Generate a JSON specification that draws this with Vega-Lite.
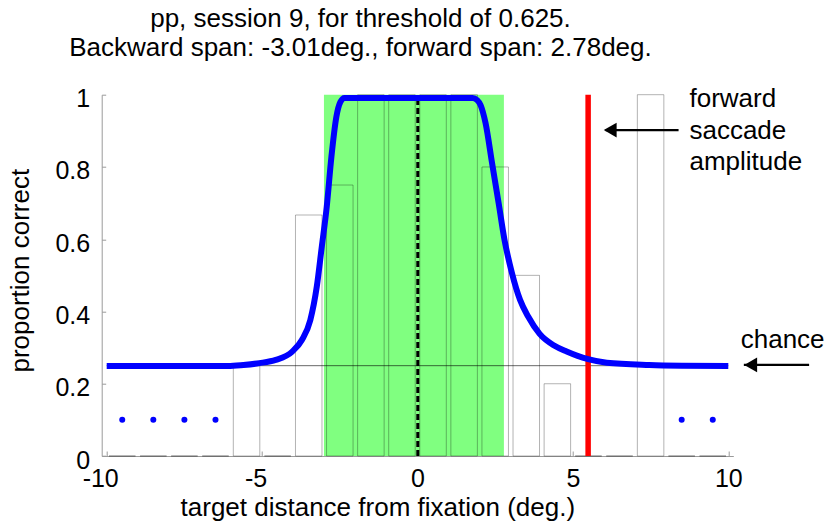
{
  "$schema": "https://vega.github.io/schema/vega-lite/v6.json",
  "width": 631.6,
  "height": 361.3,
  "autosize": {"type": "none"},
  "padding": {"left": 101.7, "top": 94.7, "right": 99.7, "bottom": 71},
  "background": "white",
  "title": {
    "text": ["pp, session 9, for threshold of 0.625.", "Backward span: -3.01deg., forward span: 2.78deg."],
    "font": "Liberation Sans",
    "fontSize": 26,
    "fontWeight": "normal",
    "color": "black",
    "lineHeight": 29,
    "anchor": "middle",
    "frame": "group",
    "dx": -57,
    "offset": 25
  },
  "datasets": {
    "bars": [
      {"x": -9.5, "p": 0}, {"x": -8.5, "p": 0}, {"x": -7.5, "p": 0}, {"x": -6.5, "p": 0},
      {"x": -5.5, "p": 0.25}, {"x": -4.5, "p": 0}, {"x": -3.5, "p": 0.667}, {"x": -2.5, "p": 0.75},
      {"x": -1.5, "p": 1}, {"x": -0.5, "p": 1}, {"x": 0.5, "p": 1}, {"x": 1.5, "p": 1},
      {"x": 2.5, "p": 0.8}, {"x": 3.5, "p": 0.5}, {"x": 4.5, "p": 0.2}, {"x": 5.5, "p": 0},
      {"x": 6.5, "p": 0}, {"x": 7.5, "p": 1}, {"x": 8.5, "p": 0}, {"x": 9.5, "p": 0}
    ],
    "span": [{"lo": -3.01, "hi": 2.78, "b": 0, "t": 1}],
    "curve": [
      {"x": -10, "p": 0.249}, {"x": -8, "p": 0.249}, {"x": -6.1, "p": 0.249}, {"x": -5.6, "p": 0.252},
      {"x": -5.09, "p": 0.257}, {"x": -4.56, "p": 0.266}, {"x": -4.03, "p": 0.289}, {"x": -3.72, "p": 0.321},
      {"x": -3.45, "p": 0.376}, {"x": -3.24, "p": 0.469}, {"x": -3.08, "p": 0.579}, {"x": -2.92, "p": 0.69},
      {"x": -2.77, "p": 0.828}, {"x": -2.61, "p": 0.939}, {"x": -2.48, "p": 0.98}, {"x": -2.35, "p": 0.991},
      {"x": 1.77, "p": 0.991}, {"x": 1.92, "p": 0.985}, {"x": 2.03, "p": 0.971}, {"x": 2.19, "p": 0.921},
      {"x": 2.4, "p": 0.81}, {"x": 2.61, "p": 0.7}, {"x": 2.8, "p": 0.598}, {"x": 3.04, "p": 0.506},
      {"x": 3.3, "p": 0.432}, {"x": 3.56, "p": 0.386}, {"x": 3.93, "p": 0.338}, {"x": 4.41, "p": 0.305},
      {"x": 4.8, "p": 0.289}, {"x": 5.15, "p": 0.277}, {"x": 5.49, "p": 0.268}, {"x": 6.09, "p": 0.258},
      {"x": 7.46, "p": 0.252}, {"x": 8.5, "p": 0.25}, {"x": 10, "p": 0.249}
    ],
    "empty": [{"x": -9.5, "p": 0.1}, {"x": -8.5, "p": 0.1}, {"x": -7.5, "p": 0.1}, {"x": -6.5, "p": 0.1}, {"x": 8.5, "p": 0.1}, {"x": 9.5, "p": 0.1}],
    "chance": [{"x": -10, "x2": 10, "p": 0.25}],
    "fixation": [{"x": 0.01, "b": 0, "t": 0.99}],
    "saccade": [{"x": 5.49, "b": 0, "t": 1}],
    "arrows": [{"x": 10.5, "x2": 12.6, "p": 0.252}, {"x": 6.05, "x2": 8.4, "p": 0.902}],
    "heads": [{"x": 10.72, "p": 0.252}, {"x": 6.2, "p": 0.902}],
    "labels": [
      {"x": 10.4, "p": 0.299, "label": "chance"},
      {"x": 8.75, "p": 0.967, "label": "forward"},
      {"x": 8.75, "p": 0.877, "label": "saccade"},
      {"x": 8.75, "p": 0.792, "label": "amplitude"}
    ]
  },
  "layer": [
    {
      "data": {"name": "span"},
      "mark": {"type": "rect", "color": "#80ff80"},
      "encoding": {
        "x": {"field": "lo", "type": "quantitative", "title": "target distance from fixation (deg.)", "scale": {"domain": [-10, 10], "nice": false, "zero": false}, "axis": {"values": [-10, -5, 0, 5, 10], "labelExpr": "datum.value + ''", "labelOffset": {"condition": {"test": "datum.value < 0", "value": -6.5}, "value": 0}}},
        "x2": {"field": "hi"},
        "y": {"field": "b", "type": "quantitative", "title": "proportion correct", "scale": {"domain": [0, 1], "nice": false}, "axis": {"values": [0, 0.2, 0.4, 0.6, 0.8, 1], "labelExpr": "datum.value + ''"}},
        "y2": {"field": "t"}
      }
    },
    {
      "data": {"name": "bars"},
      "mark": {"type": "bar", "width": 26.5, "fill": null, "fillOpacity": 0, "stroke": "black", "strokeOpacity": 0.3, "strokeWidth": 1},
      "encoding": {
        "x": {"field": "x", "type": "quantitative", "title": "target distance from fixation (deg.)", "scale": {"domain": [-10, 10], "nice": false, "zero": false}},
        "y": {"field": "p", "type": "quantitative", "title": "proportion correct", "scale": {"domain": [0, 1], "nice": false}}
      }
    },
    {
      "data": {"name": "chance"},
      "mark": {"type": "rule", "color": "black", "strokeWidth": 0.8, "opacity": 0.75},
      "encoding": {
        "x": {"field": "x", "type": "quantitative", "title": "target distance from fixation (deg.)", "scale": {"domain": [-10, 10], "nice": false, "zero": false}},
        "x2": {"field": "x2"},
        "y": {"field": "p", "type": "quantitative", "title": "proportion correct", "scale": {"domain": [0, 1], "nice": false}}
      }
    },
    {
      "data": {"name": "fixation"},
      "mark": {"type": "rule", "color": "black", "strokeWidth": 3, "strokeDash": [6, 3]},
      "encoding": {
        "x": {"field": "x", "type": "quantitative", "title": "target distance from fixation (deg.)", "scale": {"domain": [-10, 10], "nice": false, "zero": false}},
        "y": {"field": "b", "type": "quantitative", "title": "proportion correct", "scale": {"domain": [0, 1], "nice": false}},
        "y2": {"field": "t"}
      }
    },
    {
      "data": {"name": "saccade"},
      "mark": {"type": "rule", "color": "#ff0000", "strokeWidth": 5.5},
      "encoding": {
        "x": {"field": "x", "type": "quantitative", "title": "target distance from fixation (deg.)", "scale": {"domain": [-10, 10], "nice": false, "zero": false}},
        "y": {"field": "b", "type": "quantitative", "title": "proportion correct", "scale": {"domain": [0, 1], "nice": false}},
        "y2": {"field": "t"}
      }
    },
    {
      "data": {"name": "curve"},
      "mark": {"type": "line", "color": "#0000ff", "strokeWidth": 6, "interpolate": "monotone"},
      "encoding": {
        "x": {"field": "x", "type": "quantitative", "title": "target distance from fixation (deg.)", "scale": {"domain": [-10, 10], "nice": false, "zero": false}},
        "y": {"field": "p", "type": "quantitative", "title": "proportion correct", "scale": {"domain": [0, 1], "nice": false}}
      }
    },
    {
      "data": {"name": "empty"},
      "mark": {"type": "point", "filled": true, "shape": "circle", "color": "#0000ff", "size": 36, "opacity": 1},
      "encoding": {
        "x": {"field": "x", "type": "quantitative", "title": "target distance from fixation (deg.)", "scale": {"domain": [-10, 10], "nice": false, "zero": false}},
        "y": {"field": "p", "type": "quantitative", "title": "proportion correct", "scale": {"domain": [0, 1], "nice": false}}
      }
    },
    {
      "data": {"name": "arrows"},
      "mark": {"type": "rule", "color": "black", "strokeWidth": 2.3},
      "encoding": {
        "x": {"field": "x", "type": "quantitative", "title": "target distance from fixation (deg.)", "scale": {"domain": [-10, 10], "nice": false, "zero": false}},
        "x2": {"field": "x2"},
        "y": {"field": "p", "type": "quantitative", "title": "proportion correct", "scale": {"domain": [0, 1], "nice": false}}
      }
    },
    {
      "data": {"name": "heads"},
      "mark": {"type": "point", "filled": true, "shape": "triangle-left", "color": "black", "size": 220, "opacity": 1},
      "encoding": {
        "x": {"field": "x", "type": "quantitative", "title": "target distance from fixation (deg.)", "scale": {"domain": [-10, 10], "nice": false, "zero": false}},
        "y": {"field": "p", "type": "quantitative", "title": "proportion correct", "scale": {"domain": [0, 1], "nice": false}}
      }
    },
    {
      "data": {"name": "labels"},
      "mark": {"type": "text", "align": "left", "baseline": "alphabetic", "font": "Liberation Sans", "fontSize": 26, "color": "black"},
      "encoding": {
        "x": {"field": "x", "type": "quantitative", "title": "target distance from fixation (deg.)", "scale": {"domain": [-10, 10], "nice": false, "zero": false}},
        "y": {"field": "p", "type": "quantitative", "title": "proportion correct", "scale": {"domain": [0, 1], "nice": false}},
        "text": {"field": "label"}
      }
    }
  ],
  "config": {
    "view": {"stroke": null},
    "axis": {
      "grid": false,
      "domainColor": "#9a9a9a",
      "tickColor": "#9a9a9a",
      "labelFont": "Liberation Sans",
      "labelFontSize": 25,
      "labelColor": "black",
      "titleFont": "Liberation Sans",
      "titleFontSize": 26,
      "titleFontWeight": "normal",
      "titleColor": "black"
    },
    "axisX": {
      "tickSize": -5,
      "labelPadding": 15,
      "labelFlush": false,
      "titleX": 275.6,
      "titleY": 59,
      "titleAlign": "center",
      "titleBaseline": "alphabetic",
      "titleAnchor": null
    },
    "axisY": {
      "tickSize": -4,
      "labelPadding": 16,
      "labelOffset": 4,
      "titleX": -73.2,
      "titleY": 175.5,
      "titleAngle": -90,
      "titleAlign": "center",
      "titleBaseline": "alphabetic"
    }
  }
}
